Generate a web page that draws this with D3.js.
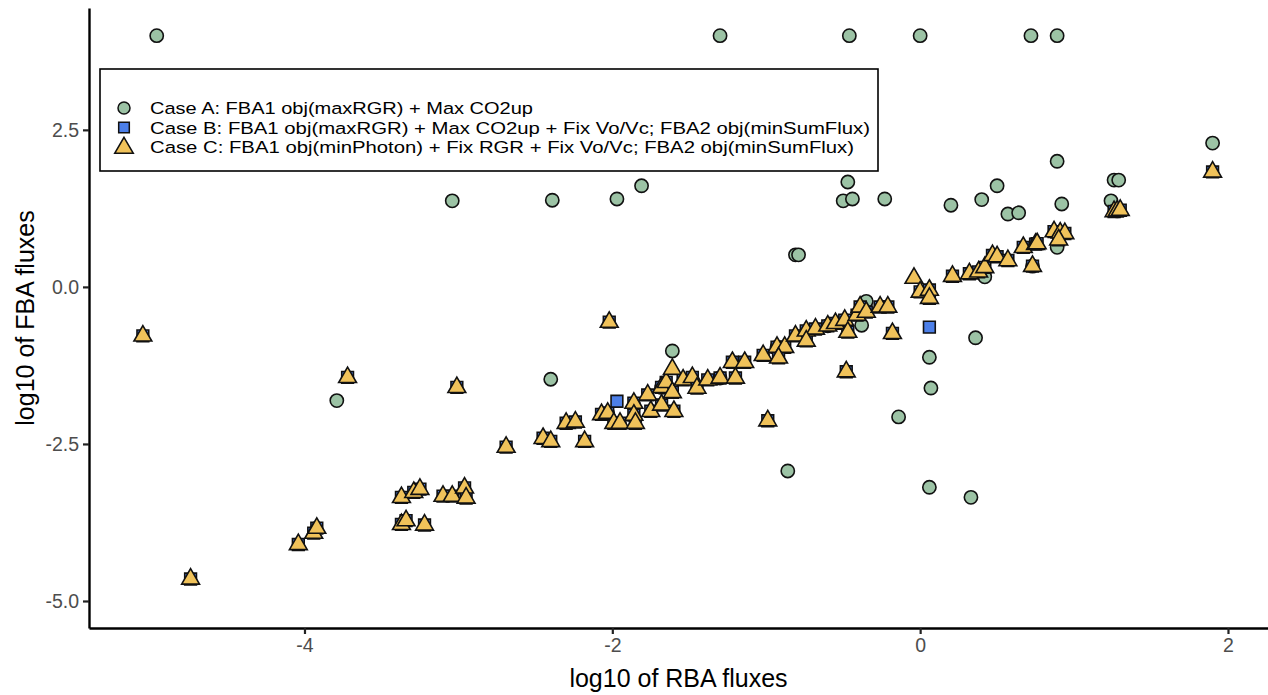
<!DOCTYPE html>
<html>
<head>
<meta charset="utf-8">
<script src="https://cdn.jsdelivr.net/npm/d3@7"></script>
<style>
  html, body { margin: 0; padding: 0; background: #fff; }
  svg { display: block; }
  text { font-family: "Liberation Sans", Arial, Helvetica, sans-serif; }
</style>
</head>
<body>
<svg id="chart" width="1268" height="695"></svg>
<script>
// ---------------- DATA ----------------
// Case A: FBA1 obj(maxRGR) + Max CO2up  (x = log10 RBA flux, y = log10 FBA flux)
const caseA_x = [-4.96,-1.30,-0.46,0.00,0.72,0.89, 1.90,0.89,1.26,1.29,1.24,-0.47,-0.50,-0.44,-0.23,0.20,0.40,0.50,0.57,0.64,0.92,
  -3.04,-2.39,-1.97,-1.81,-0.81,-0.79,-3.79,-2.40,-1.61,-0.14,-0.86,0.06,0.33,0.36,0.06,0.07,
  -0.35,-0.38,0.42,0.89,-2.03,-1.68,-1.30,-0.93,-0.60,0.73,1.28];
const caseA_y = [4.00,4.00,4.00,4.00,4.00,4.00, 2.29,2.00,1.70,1.70,1.37,1.67,1.37,1.40,1.40,1.30,1.39,1.61,1.16,1.18,1.32,
  1.37,1.38,1.40,1.61,0.51,0.51,-1.81,-1.47,-1.02,-2.07,-2.93,-3.19,-3.35,-0.81,-1.12,-1.61,
  -0.23,-0.61,0.16,0.63,-2.01,-1.60,-1.45,-0.96,-0.62,0.33,1.21];

// Case C: FBA1 obj(minPhoton) + Fix RGR + Fix Vo/Vc; FBA2 obj(minSumFlux)
const caseC_x = [-5.05,-3.72,-4.74,-4.04,-3.94,-3.92,-3.37,-3.37,-3.34,-3.29,-3.25,-3.22,-3.10,-3.04,-2.96,-2.95,-3.01,-2.69,
  -2.45,-2.40,-2.30,-2.24,-2.18,-2.07,-2.03,-2.02,-1.99,-1.95,-1.86,-1.86,-1.85,-1.77,-1.75,-1.68,-1.68,-1.65,-1.61,-1.60,-1.61,
  -1.54,-1.48,-1.45,-1.38,-1.30,-1.20,-1.22,-1.14,-1.02,-0.93,-0.88,-0.92,-0.99,-0.81,-0.74,-0.68,-0.60,-0.55,-0.74,-0.49,-0.47,
  -0.41,-0.39,-0.35,-0.26,-0.21,-0.18,-0.48,-0.04,0.00,0.06,0.06,0.21,0.32,0.38,0.42,0.47,0.50,0.57,0.67,0.75,0.76,0.73,
  0.87,0.91,0.94,0.90,1.26,1.28,1.30,1.90];
const caseC_y = [-0.78,-1.44,-4.65,-4.10,-3.92,-3.84,-3.35,-3.78,-3.72,-3.27,-3.22,-3.79,-3.33,-3.33,-3.20,-3.36,-1.60,-2.55,
  -2.41,-2.46,-2.17,-2.15,-2.46,-2.03,-2.01,-0.56,-2.17,-2.17,-1.85,-2.04,-2.17,-1.72,-1.98,-1.60,-1.88,-1.52,-1.31,-1.98,-1.68,
  -1.48,-1.44,-1.61,-1.48,-1.45,-1.45,-1.20,-1.20,-1.09,-0.96,-0.96,-1.13,-2.13,-0.78,-0.70,-0.67,-0.62,-0.58,-0.86,-0.53,-0.72,
  -0.45,-0.32,-0.40,-0.32,-0.32,-0.74,-1.35,0.14,-0.08,-0.05,-0.18,0.17,0.21,0.24,0.31,0.50,0.48,0.42,0.63,0.68,0.69,0.33,
  0.88,0.86,0.85,0.75,1.20,1.21,1.22,1.83];

// Case B: FBA1 obj(maxRGR) + Max CO2up + Fix Vo/Vc; FBA2 obj(minSumFlux)
// (same fluxes as case C except two reactions)
const caseB_x = caseC_x.filter((d, i) => i !== 36 && i !== 67).concat([-1.97, 0.06]);
const caseB_y = caseC_y.filter((d, i) => i !== 36 && i !== 67).concat([-1.82, -0.64]);

const xTicks = [-4, -2, 0, 2];
const yTicks = [-5.0, -2.5, 0.0, 2.5];
const legendLabels = [
  "Case A: FBA1 obj(maxRGR) + Max CO2up",
  "Case B: FBA1 obj(maxRGR) + Max CO2up + Fix Vo/Vc; FBA2 obj(minSumFlux)",
  "Case C: FBA1 obj(minPhoton) + Fix RGR + Fix Vo/Vc; FBA2 obj(minSumFlux)"
];
const xTitle = "log10 of RBA fluxes";
const yTitle = "log10 of FBA fluxes";

// ---------------- STYLE ----------------
const colA = "#9cc3a5", colB = "#4c7fe8", colC = "#f0c25a";
const svg = d3.select("#chart");
const W = 1268, H = 695;
const m = { left: 89, right: 0, top: 8, bottom: 67 };

const x = d3.scaleLinear().domain([-5.40, 2.26]).range([m.left, W - m.right]);
const y = d3.scaleLinear().domain([-5.43, 4.44]).range([H - m.bottom, m.top]);

const fmtY = d => d3.format(".1f")(d).replace("\u2212", "-");
const fmtX = d => String(d);

// axes
const gx = svg.append("g").attr("transform", `translate(0,${H - m.bottom})`)
  .call(d3.axisBottom(x).tickValues(xTicks).tickFormat(fmtX).tickSize(6).tickSizeOuter(0).tickPadding(4));
const gy = svg.append("g").attr("transform", `translate(${m.left},0)`)
  .call(d3.axisLeft(y).tickValues(yTicks).tickFormat(fmtY).tickSize(6).tickSizeOuter(0).tickPadding(4));
[gx, gy].forEach(g => {
  g.select(".domain").attr("stroke", "#000").attr("stroke-width", 2.4);
  g.selectAll(".tick line").attr("stroke", "#222").attr("stroke-width", 2.2);
  g.selectAll(".tick text").attr("fill", "#4d4d4d").style("font-size", "19.5px");
});

// titles
svg.append("text").attr("x", (m.left + W) / 2).attr("y", 687).attr("text-anchor", "middle")
  .style("font-size", "25px").attr("fill", "#000").text(xTitle);
svg.append("text").attr("transform", `translate(34,${(m.top + H - m.bottom) / 2}) rotate(-90)`)
  .attr("text-anchor", "middle").style("font-size", "25px").attr("fill", "#000").text(yTitle);

// points (equal-area symbols)
const AREA = 138;
const sq = d3.symbol().type(d3.symbolSquare).size(AREA);
const tri = d3.symbol().type(d3.symbolTriangle).size(AREA);

const gp = svg.append("g");
gp.selectAll("circle.a").data(d3.zip(caseA_x, caseA_y)).join("circle").attr("class", "a")
  .attr("cx", d => x(d[0])).attr("cy", d => y(d[1])).attr("r", Math.sqrt(AREA / Math.PI))
  .attr("fill", colA).attr("stroke", "#111").attr("stroke-width", 1.6);
gp.selectAll("path.b").data(d3.zip(caseB_x, caseB_y)).join("path").attr("class", "b")
  .attr("d", sq).attr("transform", d => `translate(${x(d[0])},${y(d[1])})`)
  .attr("fill", colB).attr("stroke", "#111").attr("stroke-width", 1.6);
gp.selectAll("path.c").data(d3.zip(caseC_x, caseC_y)).join("path").attr("class", "c")
  .attr("d", tri).attr("transform", d => `translate(${x(d[0])},${y(d[1])})`)
  .attr("fill", colC).attr("stroke", "#111").attr("stroke-width", 1.6);

// legend
const lg = svg.append("g");
lg.append("rect").attr("x", 100).attr("y", 69).attr("width", 778).attr("height", 102)
  .attr("fill", "#fff").attr("stroke", "#000").attr("stroke-width", 1.6);
const rowsY = [108, 127.5, 147];
const keyX = 124;
lg.append("circle").attr("cx", keyX).attr("cy", rowsY[0]).attr("r", 6)
  .attr("fill", colA).attr("stroke", "#111").attr("stroke-width", 1.5);
lg.append("path").attr("d", d3.symbol().type(d3.symbolSquare).size(113)())
  .attr("transform", `translate(${keyX},${rowsY[1]})`)
  .attr("fill", colB).attr("stroke", "#111").attr("stroke-width", 1.5);
lg.append("path").attr("d", d3.symbol().type(d3.symbolTriangle).size(150)())
  .attr("transform", `translate(${keyX},${rowsY[2] + 1})`)
  .attr("fill", colC).attr("stroke", "#111").attr("stroke-width", 1.5);
// natural widths at 20.3px, drawn at a slightly smaller size so the tight rows do not collide
const legendWidths = [383, 720, 704];
lg.selectAll("text.lab").data(legendLabels).join("text").attr("class", "lab")
  .attr("x", 150).attr("y", (d, i) => rowsY[i]).attr("dy", "0.36em")
  .attr("textLength", (d, i) => legendWidths[i]).attr("lengthAdjust", "spacingAndGlyphs")
  .style("font-size", "17.4px").attr("fill", "#000").text(d => d);
</script>
</body>
</html>
